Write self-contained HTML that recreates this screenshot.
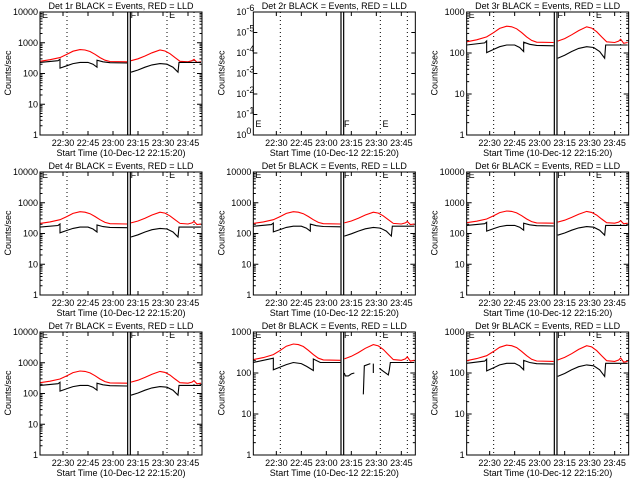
<!DOCTYPE html>
<html><head><meta charset="utf-8"><style>
body{margin:0;background:#fff;}
svg{display:block;font-family:"Liberation Sans",sans-serif;}
text{font-size:9px;fill:#000;}
</style></head><body>
<svg id="c" width="640" height="480" viewBox="0 0 640 480"></svg>
<script>
// x in minutes since 22:15:20 start
const xTickLabels = ["22:30","22:45","23:00","23:15","23:30","23:45"];
const xTickMinutes = [13.8, 28.8, 43.8, 58.8, 73.8, 88.8];
const dottedMinutes = [16.2, 76.2, 92.4];
const gapMinutes = [52.6, 54.2];
const redT = [0, 6, 12, 16.2, 19.8, 24, 27, 30, 33, 36, 39, 42, 52.2, null, 54.6, 58.8, 63, 67.2, 72, 75, 78, 81, 84, 88.8, 91.2, 92.4, 94.2, 96.6];
const redV = [250, 280, 330, 420, 530, 600, 580, 520, 420, 330, 270, 245, 240, null, 260, 300, 370, 470, 580, 540, 440, 330, 250, 240, 260, 290, 230, 240];
const blackT = [0, 10.8, 12, 12, 16.2, 19.8, 24, 28.8, 31.8, 34.2, 34.2, 37.8, 42, 52.2, null, 54.6, 58.8, 63, 67.2, 72, 76.2, 79.8, 82.8, 83.4, 96.6];
const blackV = [230, 260, 290, 150, 180, 210, 230, 230, 200, 160, 270, 240, 225, 220, null, 110, 130, 160, 190, 210, 200, 160, 110, 230, 230];
const black8T = [0, 12, 12, 16.2, 19.8, 24, 28.8, 32, 36, 36, 40.2, 52.8, null, 54.6, 55.2, 57, 58.8, 60.6, null, 66, 66.6, 70.2, null, 72, 72, null, 75.6, 78, 81, 81.6, 82.2, 96.6];
const black8V = [180, 230, 120, 140, 160, 180, 170, 145, 115, 220, 180, 180, null, 100, 85, 85, 95, 100, null, 30, 150, 170, null, 100, 170, null, 130, 110, 90, 120, 180, 180];
const titles = ["Det 1r","Det 2r","Det 3r","Det 4r","Det 5r","Det 6r","Det 7r","Det 8r","Det 9r"];
const yMaxDecade = [4, null, 3, 4, 4, 4, 4, 3, 3];
const redScale = [1, 0, 0.75, 0.85, 0.85, 0.9, 0.9, 0.85, 0.8];
const blackScale = [1, 0, 0.68, 0.7, 0.75, 0.8, 0.8, 1, 0.75];

const NS="http://www.w3.org/2000/svg";
const svg=document.getElementById('c');
function mk(t,a,p){const e=document.createElementNS(NS,t);for(const k in a)e.setAttribute(k,a[k]);(p||svg).appendChild(e);return e;}
const X0=40,X1=202,Y0=12,Y1=135,PXM=1/0.6;
function xs(m){return X0+m*PXM;}

for(let i=0;i<9;i++){
  const ox=(i%3)*213.33, oy=Math.floor(i/3)*160;
  const g=mk('g',{transform:`translate(${ox},${oy})`});
  
  
  const t=mk('text',{x:121,y:9,'text-anchor':'middle','font-size':'9.5'},g);t.textContent=titles[i]+" BLACK = Events, RED = LLD";
  
  
  const yl=mk('text',{x:0,y:0,transform:'translate(11,73) rotate(-90)','text-anchor':'middle','font-size':'8'},g);yl.textContent="Counts/sec";
  
  
  const xl=mk('text',{x:121,y:156,'text-anchor':'middle','font-size':'9'},g);xl.textContent="Start Time (10-Dec-12 22:15:20)";
  
  
  xTickMinutes.forEach((m,k)=>{const x=xs(m);
    mk('line',{x1:x,x2:x,y1:Y1,y2:Y1-4,stroke:'#000'},g);mk('line',{x1:x,x2:x,y1:Y0,y2:Y0+4,stroke:'#000'},g);
    const tl=mk('text',{x:x,y:146,'text-anchor':'middle','font-size':'8'},g);tl.textContent=xTickLabels[k];
    
    
  });
  dottedMinutes.forEach(m=>{const x=xs(m);mk('line',{x1:x,x2:x,y1:Y0,y2:Y1,stroke:'#000','stroke-dasharray':'1,3'},g);});
  gapMinutes.forEach(m=>{const x=xs(m);mk('line',{x1:x,x2:x,y1:Y0,y2:Y1,stroke:'#000','stroke-width':1.2},g);});
  // E/F markers
  const my=(yMaxDecade[i]===null)?Y1-8:Y0+6;
  [[X0+2,'E'],[xs(54.4),'F'],[xs(77.5),'E']].forEach(([x,s])=>{const e=mk('text',{x:x,y:my,'font-size':'10'},g);e.textContent=s;});
  let ys;
  if(yMaxDecade[i]===null){
    const d=(Y1-Y0)/6;
    for(let k=0;k<=6;k++){const y=Y0+k*d;
      mk('line',{x1:X0,x2:X0+4,y1:y,y2:y,stroke:'#000'},g);mk('line',{x1:X1,x2:X1-4,y1:y,y2:y,stroke:'#000'},g);
      const tl=mk('text',{x:33,y:y+3,'text-anchor':'end','font-size':'8'},g);tl.textContent="10";
      
      
      const sp=mk('text',{x:33,y:y-1,'font-size':'5.5'},g);sp.textContent=(k===6?"0":"-"+(6-k));
    }
  } else {
    const n=yMaxDecade[i], d=(Y1-Y0)/n;
    ys=v=>Y1-Math.log10(v)*d;
    for(let k=0;k<=n;k++){const y=Y1-k*d;
      mk('line',{x1:X0,x2:X0+5,y1:y,y2:y,stroke:'#000'},g);mk('line',{x1:X1,x2:X1-5,y1:y,y2:y,stroke:'#000'},g);
      const tl=mk('text',{x:38,y:y+3,'text-anchor':'end','font-size':'8'},g);tl.textContent=String(Math.pow(10,k));
      
      
      if(k<n)for(let j=2;j<10;j++){const yy=Y1-(k+Math.log10(j))*d;
        mk('line',{x1:X0,x2:X0+2.5,y1:yy,y2:yy,stroke:'#000'},g);mk('line',{x1:X1,x2:X1-2.5,y1:yy,y2:yy,stroke:'#000'},g);}
    }
    function series(T,V,sc,col,name){let d='',pen=false;
      for(let k=0;k<T.length;k++){if(T[k]===null){pen=false;continue;}
        d+=(pen?'L':'M')+xs(T[k]).toFixed(1)+','+ys(V[k]*sc).toFixed(1);pen=true;}
      const p=mk('path',{d:d,fill:'none',stroke:col,'stroke-width':1.1},g);
      
      }
    series(redT,redV,redScale[i],'#f00','lld-series-red');
    if(i===7) series(black8T,black8V,blackScale[i],'#000','events-series-black');
    else series(blackT,blackV,blackScale[i],'#000','events-series-black');
  }
  mk('rect',{x:X0,y:Y0,width:X1-X0,height:Y1-Y0,fill:'none',stroke:'#000','stroke-width':1},g);
}
</script>
</body></html>
